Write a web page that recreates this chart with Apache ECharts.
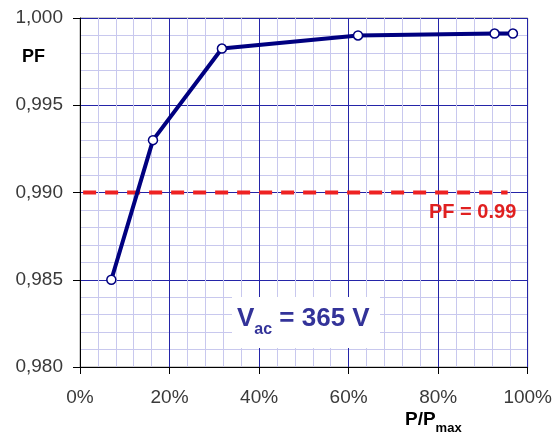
<!DOCTYPE html>
<html>
<head>
<meta charset="utf-8">
<script src="https://cdn.jsdelivr.net/npm/echarts@6/dist/echarts.min.js"></script>
<style>html,body{margin:0;padding:0;background:#fff}#c{width:555px;height:439px}</style>
</head>
<body>
<div id="c"></div>
<script>
var loadPct = [7, 16.3, 31.7, 62.1, 92.6, 96.7];
var pfValues = [0.985, 0.993, 0.99825, 0.999, 0.99911, 0.99911];
var refX = [0.7, 95.5];
var refPF = 0.99;
var xTicks = [0, 20, 40, 60, 80, 100];
var yTicks = [0.980, 0.985, 0.990, 0.995, 1.000];

var chart = echarts.init(document.getElementById('c'));
var font = 'Arial, "Liberation Sans", sans-serif';
chart.setOption({
  animation: false,
  grid: {left: 80, right: 26, top: 18, bottom: 72, show: true, borderColor: '#9a9a9a', borderWidth: 1, backgroundColor: 'transparent'},
  xAxis: {
    type: 'value', min: xTicks[0], max: xTicks[xTicks.length - 1], interval: 20,
    axisLine: {show: true, onZero: false, lineStyle: {color: '#000', width: 1}},
    axisTick: {show: true, length: 7, lineStyle: {color: '#000'}},
    axisLabel: {formatter: function (v) { return v + '%'; }, color: '#3a3a3a', fontSize: 19, fontFamily: font, margin: 21},
    splitLine: {show: true, lineStyle: {color: '#2424a8', width: 1}},
    minorTick: {show: false, splitNumber: 5},
    minorSplitLine: {show: true, lineStyle: {color: '#c8c8ee', width: 1}}
  },
  yAxis: {
    type: 'value', min: yTicks[0], max: yTicks[yTicks.length - 1], interval: 0.005,
    axisLine: {show: true, lineStyle: {color: '#000', width: 1}},
    axisTick: {show: true, length: 7, lineStyle: {color: '#000'}},
    axisLabel: {formatter: function (v) { return v.toFixed(3).replace('.', ','); }, color: '#3a3a3a', fontSize: 19, fontFamily: font, margin: 17},
    splitLine: {show: true, lineStyle: {color: '#2424a8', width: 1}},
    minorTick: {show: false, splitNumber: 5},
    minorSplitLine: {show: true, lineStyle: {color: '#c8c8ee', width: 1}}
  },
  series: [
    {
      type: 'line', data: refX.map(function (x) { return [x, refPF]; }),
      symbol: 'none', lineStyle: {color: '#ee2222', width: 4, type: [13, 9]}, z: 3, silent: true
    },
    {
      type: 'line', data: loadPct.map(function (x, i) { return [x, pfValues[i]]; }),
      symbol: 'circle', symbolSize: 9,
      itemStyle: {color: '#fff', borderColor: '#000080', borderWidth: 1.5},
      lineStyle: {color: '#000080', width: 4}, z: 5
    }
  ],
  graphic: [
    {type: 'text', left: 22, top: 48, style: {text: 'PF', font: 'bold 18px ' + font, fill: '#000'}},
    {type: 'text', left: 429, top: 202, z: 10, style: {text: 'PF = 0.99', font: 'bold 20px ' + font, fill: '#e02020'}},
    {type: 'rect', shape: {x: 232, y: 297, width: 148, height: 51}, style: {fill: '#fff'}, z: 10},
    {type: 'text', left: 237, top: 306, z: 11, style: {
      text: '{a|V}{b|ac}{a| = 365 V}',
      rich: {
        a: {font: 'bold 26px ' + font, fill: '#333399', verticalAlign: 'bottom'},
        b: {font: 'bold 16px ' + font, fill: '#333399', verticalAlign: 'bottom', padding: [0, 0, -6, 0]}
      }
    }},
    {type: 'text', left: 405, top: 410, style: {
      text: '{a|P/P}{b|max}',
      rich: {
        a: {font: 'bold 19px ' + font, fill: '#000', verticalAlign: 'bottom'},
        b: {font: 'bold 13px ' + font, fill: '#000', verticalAlign: 'bottom', padding: [0, 0, -6, 0]}
      }
    }}
  ]
});
</script>
</body>
</html>
